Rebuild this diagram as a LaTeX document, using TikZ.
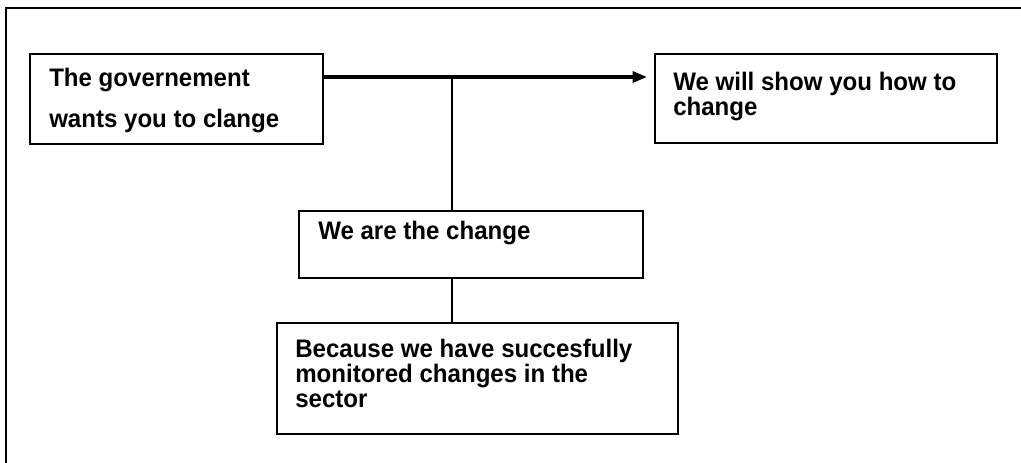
\documentclass[tikz,border=0pt]{standalone}
\usepackage{fontspec}
\setmainfont[FakeStretch=0.95]{Liberation Sans}
\usetikzlibrary{arrows.meta}
\tikzset{
  box/.style={draw, line width=1.5pt, rectangle, inner sep=0pt, anchor=north west},
  txt/.style={anchor=base west, inner sep=0pt, text height=0.72em, text depth=0.15em, font=\fontsize{19}{18}\selectfont\bfseries},
  link/.style={line width=1.5pt},
  arrowline/.style={line width=3pt, -{Triangle[length=11pt 0,width=8pt 0]}, shorten >=5pt},
}
\begin{document}
\begin{tikzpicture}[x=0.75pt,y=-0.75pt]
\useasboundingbox (0,0) rectangle (1021,463);
\coordinate (fbl) at (6,463);
\coordinate (ftl) at (6,8);
\coordinate (ftr) at (1021,8);
\draw[line width=1.7pt] (fbl) -- (ftl) -- (ftr);

\node[box, minimum width=293*0.75pt, minimum height=90*0.75pt] (b1) at (29,53) {};
\node[box, minimum width=342*0.75pt, minimum height=89*0.75pt] (b2) at (654,53) {};
\node[box, minimum width=344*0.75pt, minimum height=67*0.75pt] (b3) at (298,210) {};
\node[box, minimum width=401*0.75pt, minimum height=111*0.75pt] (b4) at (276,322) {};

\node[txt] (t1a) at (49,87) {The governement};
\node[txt] (t1b) at (49,128) {wants you to clange};
\node[txt] (t2a) at (673,91) {We will show you how to};
\node[txt] (t2b) at (673,116) {change};
\node[txt] (t3) at (318,240) {We are the change};
\node[txt] (t4a) at (295,357) {Because we have succesfully};
\node[txt] (t4b) at (295,382) {monitored changes in the};
\node[txt] (t4c) at (295,407) {sector};

\coordinate (j) at (452,77);
\draw[arrowline] (b1.east |- j) -- (b2.west |- j);
\draw[link] (j) -- (j |- b3.north);
\draw[link] (b3.south -| j) -- (b4.north -| j);
\end{tikzpicture}
\end{document}
